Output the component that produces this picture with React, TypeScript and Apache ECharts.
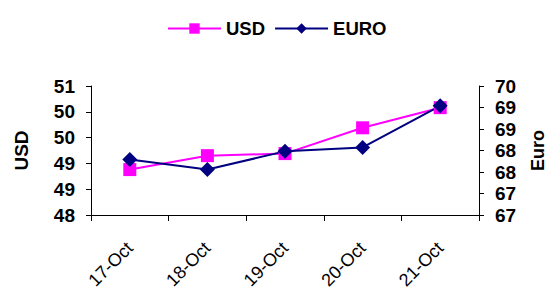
import React, { useEffect, useRef } from "react";
import * as echarts from "echarts";

const categories = ["17-Oct", "18-Oct", "19-Oct", "20-Oct", "21-Oct"];
const usdValues = [48.88, 49.15, 49.19, 49.69, 50.08];
const euroValues = [67.79, 67.56, 67.98, 68.07, 69.04];

const FONT = "'Liberation Sans', Arial, sans-serif";

export default function App() {
  const ref = useRef<HTMLDivElement>(null);
  useEffect(() => {
    if (!ref.current) return;
    const chart = echarts.init(ref.current, null, { renderer: "svg", width: 549, height: 293 });
    chart.setOption({
      animation: false,
      backgroundColor: "#ffffff",
      textStyle: { fontFamily: FONT },
      legend: {
        top: 14,
        left: 162,
        itemWidth: 53,
        itemHeight: 13,
        itemGap: 9,
        textStyle: { fontFamily: FONT, fontWeight: "bold", fontSize: 18.5, color: "#000" },
        data: ["USD", "EURO"],
      },
      grid: { left: 91, right: 70, top: 86, bottom: 78, containLabel: false, outerBoundsMode: "none" },
      xAxis: {
        type: "category",
        data: categories,
        boundaryGap: true,
        axisLine: { lineStyle: { color: "#000", width: 1 } },
        axisTick: { show: true, length: 6, lineStyle: { color: "#000" } },
        axisLabel: {
          rotate: 45,
          fontFamily: FONT,
          fontSize: 18,
          color: "#000",
          margin: 30,
        },
        splitLine: { show: false },
      },
      yAxis: [
        {
          type: "value",
          name: "USD",
          nameLocation: "middle",
          nameRotate: 90,
          nameGap: 60,
          nameTextStyle: { fontFamily: FONT, fontWeight: "bold", fontSize: 19, color: "#000" },
          min: 48,
          max: 50.5,
          interval: 0.5,
          position: "left",
          axisLine: { show: true, lineStyle: { color: "#000" } },
          axisTick: { show: true, length: 5, lineStyle: { color: "#000" } },
          axisLabel: {
            fontFamily: FONT,
            fontWeight: "bold",
            fontSize: 19,
            color: "#000",
            margin: 16,
            formatter: (v: number) => String(Math.round(v)),
          },
          splitLine: { show: false },
        },
        {
          type: "value",
          name: "Euro",
          nameLocation: "middle",
          nameRotate: 90,
          nameGap: 50,
          nameTextStyle: { fontFamily: FONT, fontWeight: "bold", fontSize: 18, color: "#000" },
          min: 66.5,
          max: 69.5,
          interval: 0.5,
          position: "right",
          axisLine: { show: true, lineStyle: { color: "#000" } },
          axisTick: { show: true, length: 5, lineStyle: { color: "#000" } },
          axisLabel: {
            fontFamily: FONT,
            fontWeight: "bold",
            fontSize: 19,
            color: "#000",
            margin: 16,
            formatter: (v: number) => String(Math.round(v)),
          },
          splitLine: { show: false },
        },
      ],
      series: [
        {
          name: "USD",
          type: "line",
          yAxisIndex: 0,
          data: usdValues,
          symbol: "rect",
          symbolSize: 13,
          itemStyle: { color: "#ff00ff" },
          lineStyle: { color: "#ff00ff", width: 2 },
        },
        {
          name: "EURO",
          type: "line",
          yAxisIndex: 1,
          data: euroValues,
          symbol: "diamond",
          symbolSize: 15,
          itemStyle: { color: "#000080" },
          lineStyle: { color: "#000080", width: 2 },
        },
      ],
    });
    return () => chart.dispose();
  }, []);
  return (
    <div
      ref={ref}
      style={{ position: "absolute", left: 0, top: 0, width: 549, height: 293 }}
    />
  );
}
